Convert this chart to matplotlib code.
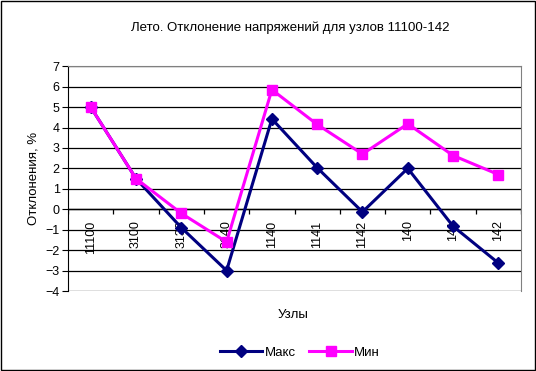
import numpy as np
import matplotlib.pyplot as plt
from matplotlib.patches import Rectangle

plt.rcParams['font.family'] = ['Liberation Sans', 'DejaVu Sans']

# Данные
uzly = ['11100', '3100', '3130', '3140', '1140', '1141', '1142', '140', '141', '142']
maks = [5.0, 1.5, -0.9, -3.0, 4.42, 2.03, -0.13, 2.0, -0.83, -2.63]
mins = [5.0, 1.5, -0.2, -1.6, 5.85, 4.15, 2.7, 4.18, 2.63, 1.7]
y_ticks = list(range(-4, 8))

fig = plt.figure(figsize=(5.36, 3.71), dpi=100)
ax = fig.add_axes([0.127, 0.2156, 0.845, 0.606])

x = np.arange(len(uzly))
ax.plot(x, maks, color='#000080', lw=2.2, marker='D', ms=6.5, label='Макс', zorder=3)
ax.plot(x, mins, color='#FF00FF', lw=2.2, marker='s', ms=7.5, label='Мин', zorder=4)

ax.set_xlim(-0.5, len(uzly) - 0.5)
ax.set_ylim(-4, 7)
ax.set_yticks(y_ticks)
ax.tick_params(axis='y', labelsize=9, length=4, direction='out', width=0.8, pad=2)
ax.set_xticks([])
ax.yaxis.grid(True, color='black', lw=0.9)
ax.set_axisbelow(True)

for s in ['top', 'right']:
    ax.spines[s].set_color('#808080')
ax.spines['bottom'].set_visible(False)
ax.spines['left'].set_color('black')
ax.axhline(0, color='black', lw=1, zorder=2)

# засечки оси категорий и подписи
ax.vlines(np.arange(len(uzly) + 1) - 0.5, -0.25, 0, color='black', lw=0.9, zorder=2)
for i, lab in enumerate(uzly):
    ax.text(i, -0.55, lab, rotation=90, ha='center', va='top', fontsize=9, zorder=1)

ax.set_ylabel('Отклонения, %', fontsize=9.5, labelpad=4)
fig.text(0.542, 0.925, 'Лето. Отклонение напряжений для узлов 11100-142', ha='center', va='center', fontsize=9.5)
fig.text(0.546, 0.15, 'Узлы', ha='center', va='center', fontsize=9.5)

fig.legend(loc='center', bbox_to_anchor=(0.56, 0.05), ncol=2, frameon=False,
           fontsize=9.5, handlelength=3.2, columnspacing=1.0, handletextpad=0.2)

fig.patches.append(Rectangle((0.001, 0.002), 0.997, 0.996, transform=fig.transFigure,
                             fill=False, ec='black', lw=1))

fig.savefig('out.png', dpi=100)
